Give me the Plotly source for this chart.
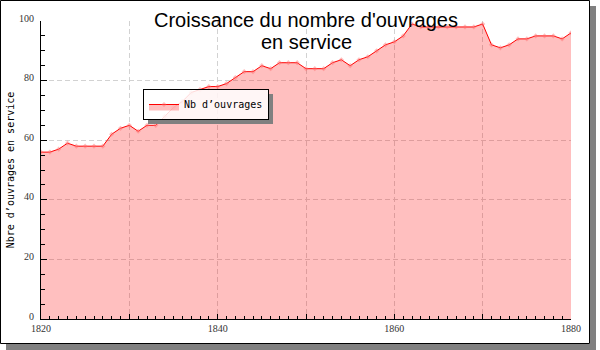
import plotly.graph_objects as go

# ---------------- data ----------------
years = list(range(1820, 1881))
nb_ouvrages = [
    56, 56, 57, 59, 58, 58, 58, 58, 62, 64,
    65, 63, 65, 65, 68, 71, 73, 76, 77, 78,
    78, 79, 81, 83, 83, 85, 84, 86, 86, 86,
    84, 84, 84, 86, 87, 85, 87, 88, 90, 92,
    93, 95, 99, 98, 98, 98, 98, 98, 98, 98,
    99, 92, 91, 92, 94, 94, 95, 95, 95, 94, 96,
]
x_tickvals = [1820, 1830, 1840, 1850, 1860, 1870, 1880]
x_ticktext = ["1820", "", "1840", "", "1860", "", "1880"]
y_tickvals = [0, 20, 40, 60, 80, 100]
y_ticktext = ["0", "20", "40", "60", "80", "100"]
series_name = "Nb d\u2019ouvrages"
title_line1 = "Croissance du nombre d'ouvrages"
title_line2 = "en service"
y_title = "Nbre d\u2019ouvrages en service"

# ---------------- layout geometry (pixels) ----------------
W, H = 600, 350
ML, MR, MT, MB = 41, 29, 21, 31
PW, PH = W - ML - MR, H - MT - MB


def px_x(p):
    return (p - ML) / PW


def px_y(p):
    return 1 - (p - MT) / PH


fig = go.Figure()
fig.add_trace(go.Scatter(
    x=years, y=nb_ouvrages, name=series_name,
    mode="lines+markers", fill="tozeroy",
    fillcolor="rgba(255,0,0,0.25)",
    line=dict(color="#ff0000", width=1),
    marker=dict(symbol="diamond", size=4, color="rgba(255,110,110,0.45)"),
))

grid_dash = "5px,3px"
grid_color = "#d2d2d2"
fig.update_xaxes(
    range=[1820, 1880], tickmode="array", tickvals=x_tickvals, ticktext=x_ticktext,
    ticks="inside", ticklen=5, tickcolor="black", tickwidth=1,
    showline=True, linecolor="black", linewidth=1, mirror=False,
    showgrid=True, gridcolor=grid_color, griddash=grid_dash, gridwidth=1,
    zeroline=False,
    minor=dict(dtick=1, ticks="inside", ticklen=3, tickcolor="black", showgrid=False),
    tickfont=dict(family="Liberation Sans Narrow", size=10, color="#333"),
)
fig.update_yaxes(
    range=[0, 100], tickmode="array", tickvals=y_tickvals, ticktext=y_ticktext,
    ticks="inside", ticklen=6, tickcolor="black", tickwidth=1,
    showline=True, linecolor="black", linewidth=1, mirror=False,
    showgrid=True, gridcolor=grid_color, griddash=grid_dash, gridwidth=1,
    zeroline=False,
    minor=dict(dtick=5, ticks="inside", ticklen=4, tickcolor="black", showgrid=False),
    tickfont=dict(family="Liberation Sans Narrow", size=10, color="#333"),
    ticklabelstandoff=4, ticklabelshift=-3,
    title=dict(text=y_title, font=dict(family="DejaVu Sans Mono", size=10, color="black"), standoff=2),
)

LEG_L, LEG_T, LEG_R, LEG_B = 143, 89, 268, 119
shapes = [
    # outer frame shadow
    dict(type="rect", xref="paper", yref="paper", layer="below",
         x0=px_x(590), x1=px_x(596), y0=px_y(6), y1=px_y(350),
         fillcolor="#808080", line=dict(width=0)),
    dict(type="rect", xref="paper", yref="paper", layer="below",
         x0=px_x(6), x1=px_x(596), y0=px_y(344), y1=px_y(350),
         fillcolor="#808080", line=dict(width=0)),
    # outer frame
    dict(type="rect", xref="paper", yref="paper", layer="below",
         x0=px_x(0.5), x1=px_x(589.5), y0=px_y(0.5), y1=px_y(343.5),
         fillcolor="rgba(0,0,0,0)", line=dict(color="black", width=1)),
    # legend shadow
    dict(type="rect", xref="paper", yref="paper", layer="above",
         x0=px_x(LEG_R), x1=px_x(LEG_R + 5), y0=px_y(LEG_T + 5), y1=px_y(LEG_B + 5),
         fillcolor="#808080", line=dict(width=0)),
    dict(type="rect", xref="paper", yref="paper", layer="above",
         x0=px_x(LEG_L + 5), x1=px_x(LEG_R + 5), y0=px_y(LEG_B), y1=px_y(LEG_B + 5),
         fillcolor="#808080", line=dict(width=0)),
]

fig.update_layout(
    width=W, height=H,
    margin=dict(l=ML, r=MR, t=MT, b=MB, autoexpand=False),
    paper_bgcolor="white", plot_bgcolor="white",
    showlegend=True,
    legend=dict(
        x=px_x(LEG_L), y=px_y(LEG_T), xanchor="left", yanchor="top",
        bgcolor="rgba(255,255,255,0.85)", bordercolor="black", borderwidth=1,
        font=dict(family="DejaVu Sans Mono", size=10, color="black"),
        itemwidth=30,
    ),
    title=dict(
        text=title_line1, x=0.5, xref="paper", xanchor="center",
        y=1 - 19.5 / H, yref="container", yanchor="middle",
        font=dict(family="Liberation Sans", size=20, color="black"),
    ),
    annotations=[dict(
        text=title_line2, x=0.5, xref="paper", xanchor="center",
        y=px_y(41.5), yref="paper", yanchor="middle", showarrow=False,
        font=dict(family="Liberation Sans", size=20, color="black"),
    )],
    shapes=shapes,
)

fig.write_html("out.html")
